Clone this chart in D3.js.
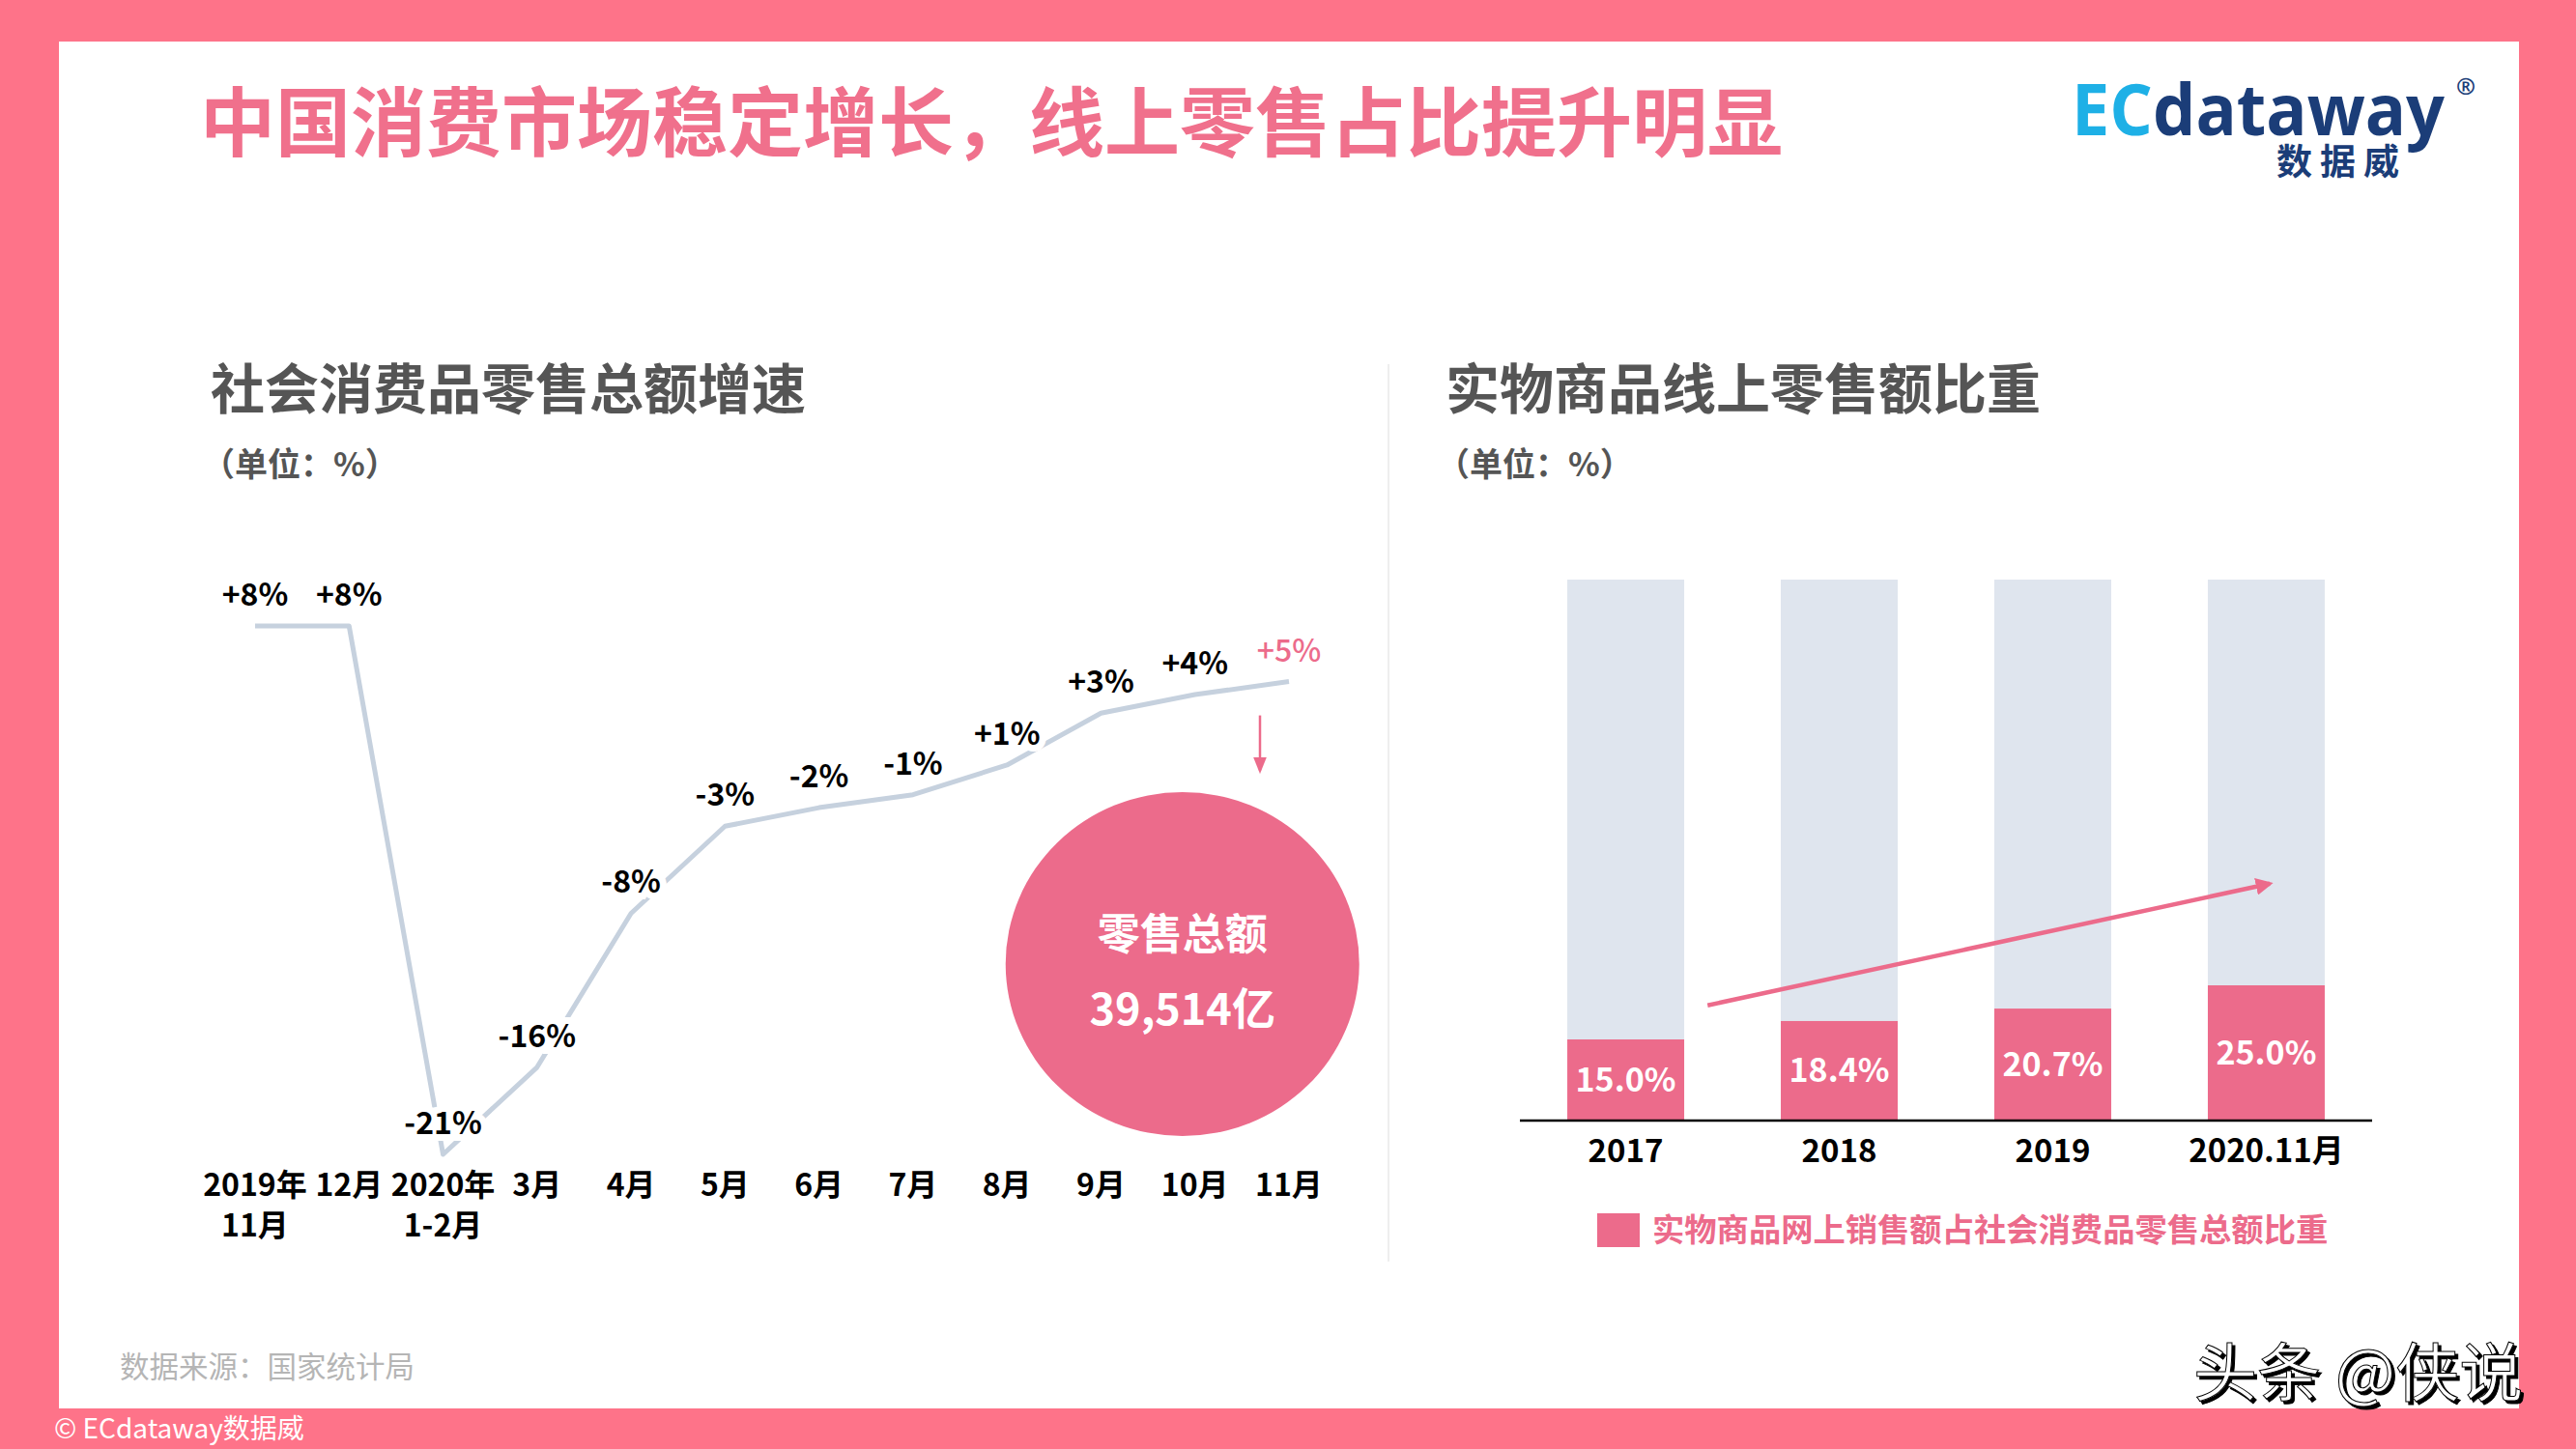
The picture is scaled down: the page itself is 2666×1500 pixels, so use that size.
<!DOCTYPE html>
<html><head><meta charset="utf-8">
<script src="https://cdn.jsdelivr.net/npm/d3@7"></script>
<style>html,body{margin:0;padding:0;background:#fff;}svg{display:block;}</style>
</head><body>
<script>
// ---- data ----
const months = ["2019年11月","12月","2020年1-2月","3月","4月","5月","6月","7月","8月","9月","10月","11月"];
const monthLines = [["2019年","11月"],["12月"],["2020年","1-2月"],["3月"],["4月"],["5月"],["6月"],["7月"],["8月"],["9月"],["10月"],["11月"]];
const growth = [8.0, 8.0, -20.5, -15.8, -7.5, -2.8, -1.8, -1.1, 0.5, 3.3, 4.3, 5.0];
const growthLabels = ["+8%","+8%","-21%","-16%","-8%","-3%","-2%","-1%","+1%","+3%","+4%","+5%"];
const years = ["2017","2018","2019","2020.11月"];
const onlineShare = [15.0, 18.4, 20.7, 25.0];
const shareLabels = ["15.0%","18.4%","20.7%","25.0%"];
const totalLabel = ["零售总额","39,514亿"];

const W = 2666, H = 1500;
const PINK = "#ec6b8b", BORDER = "#fe7389", FONT = "'Noto Sans CJK SC','Noto Sans',sans-serif";

const svg = d3.select("body").append("svg").attr("width", W).attr("height", H);
svg.append("defs").html(`
  <marker id="ah" viewBox="0 0 10 10" refX="8" refY="5" markerWidth="4" markerHeight="4" orient="auto"><path d="M0,0L10,5L0,10z" fill="${PINK}"/></marker>
  <marker id="ah2" viewBox="0 0 10 10" refX="8" refY="5" markerWidth="7" markerHeight="7" orient="auto"><path d="M0,1L10,5L0,9z" fill="${PINK}"/></marker>
  <filter id="sh" x="-10%" y="-10%" width="130%" height="140%"><feDropShadow dx="3" dy="3" stdDeviation="0.6" flood-color="#000" flood-opacity="1"/></filter>`);

// frame
svg.append("rect").attr("width", W).attr("height", H).attr("fill", BORDER);
svg.append("rect").attr("x", 61).attr("y", 43).attr("width", 2546).attr("height", 1415).attr("fill", "#fff");

// title
svg.append("text").attr("x", 207).attr("y", 156).attr("font-family", FONT).attr("font-weight", 700)
  .attr("font-size", 78).attr("fill", "#f0708c").text("中国消费市场稳定增长，线上零售占比提升明显");

// logo
const logo = svg.append("g").attr("font-family", "'Open Sans','DejaVu Sans',sans-serif").attr("font-weight", 700);
logo.append("text").attr("x", 2144).attr("y", 140).attr("font-size", 74).attr("textLength", 386).attr("lengthAdjust","spacingAndGlyphs")
  .html(`<tspan fill="#1eb0e6">EC</tspan><tspan fill="#1b3d78">dataway</tspan>`);
logo.append("text").attr("x", 2552).attr("y", 98).attr("font-size", 24).attr("fill", "#1b3d78").attr("text-anchor","middle").text("®");
svg.append("text").attr("x", 2356).attr("y", 181).attr("font-family", FONT).attr("font-weight", 700)
  .attr("font-size", 37).attr("letter-spacing", 8).attr("fill", "#1b3d78").text("数据威");

// subtitles
const sub = (x, t) => {
  svg.append("text").attr("x", x).attr("y", 423).attr("font-family", FONT).attr("font-weight", 700)
    .attr("font-size", 56).attr("fill", "#555").text(t);
  svg.append("text").attr("x", x - 9).attr("y", 493).attr("font-family", FONT).attr("font-weight", 700)
    .attr("font-size", 34).attr("fill", "#555").text("（单位：%）");
};
sub(218, "社会消费品零售总额增速");
sub(1496, "实物商品线上零售额比重");

// divider
svg.append("line").attr("x1", 1437).attr("x2", 1437).attr("y1", 377).attr("y2", 1306).attr("stroke", "#eee").attr("stroke-width", 2);

// ---- line chart ----
const x = d3.scalePoint().domain(months).range([264, 1334]);
const y = d3.scaleLinear().domain([-20.5, 8]).range([1195, 648]);
const data = months.map((m, i) => ({m, v: growth[i], l: growthLabels[i], lines: monthLines[i]}));

svg.append("path").datum(data)
  .attr("d", d3.line().x(d => x(d.m)).y(d => y(d.v)))
  .attr("fill", "none").attr("stroke", "#c6d1de").attr("stroke-width", 5).attr("stroke-linejoin", "round");

svg.append("g").selectAll("text").data(data).join("text")
  .attr("x", d => x(d.m)).attr("y", d => y(d.v) - 21).attr("text-anchor", "middle")
  .attr("font-family", FONT).attr("font-size", 32)
  .attr("font-weight", (d, i) => i === data.length - 1 ? 500 : 700)
  .attr("fill", (d, i) => i === data.length - 1 ? PINK : "#000")
  .attr("stroke", "#fff").attr("stroke-width", 14).attr("paint-order", "stroke")
  .text(d => d.l);

// x labels
const xl = svg.append("g").attr("font-family", FONT).attr("font-weight", 700).attr("font-size", 32).attr("fill", "#000");
data.forEach(d => {
  d.lines.forEach((t, j) => {
    xl.append("text").attr("x", x(d.m)).attr("y", 1238 + j * 42).attr("text-anchor", "middle").text(t);
  });
});

// down arrow + circle
const lastM = months[months.length - 1];
svg.append("line").attr("x1", x(lastM) - 30).attr("x2", x(lastM) - 30)
  .attr("y1", y(growth[11]) + 35).attr("y2", y(growth[11]) + 92)
  .attr("stroke", PINK).attr("stroke-width", 2.5).attr("marker-end", "url(#ah2)");
const cx = x(months[10]) - 13, cy = 998;
svg.append("ellipse").attr("cx", cx).attr("cy", cy).attr("rx", 183).attr("ry", 178).attr("fill", PINK);
svg.append("text").attr("x", cx).attr("y", cy - 15).attr("text-anchor", "middle").attr("font-family", FONT)
  .attr("font-weight", 700).attr("font-size", 44).attr("fill", "#fff").text(totalLabel[0]);
svg.append("text").attr("x", cx).attr("y", cy + 63).attr("text-anchor", "middle").attr("font-family", FONT)
  .attr("font-weight", 700).attr("font-size", 45).attr("fill", "#fff").text(totalLabel[1]);

// ---- bar chart ----
const xb = d3.scaleBand().domain(years).range([1573, 2455]).paddingInner(0.4525).paddingOuter(0.222);
const yb = d3.scaleLinear().domain([0, 100]).range([1160, 600]);
const bars = years.map((yr, i) => ({yr, v: onlineShare[i], l: shareLabels[i]}));

svg.append("g").selectAll("rect").data(bars).join("rect")
  .attr("x", d => xb(d.yr)).attr("width", xb.bandwidth()).attr("y", yb(100)).attr("height", yb(0) - yb(100)).attr("fill", "#dfe5ee");
svg.append("g").selectAll("rect").data(bars).join("rect")
  .attr("x", d => xb(d.yr)).attr("width", xb.bandwidth()).attr("y", d => yb(d.v)).attr("height", d => yb(0) - yb(d.v)).attr("fill", PINK);
svg.append("g").selectAll("text").data(bars).join("text")
  .attr("x", d => xb(d.yr) + xb.bandwidth() / 2).attr("y", d => (yb(d.v) + yb(0)) / 2 + 12).attr("text-anchor", "middle")
  .attr("font-family", FONT).attr("font-weight", 700).attr("font-size", 34).attr("fill", "#fff").text(d => d.l);

const xAxis = svg.append("g").attr("transform", `translate(0,${yb(0)})`)
  .call(d3.axisBottom(xb).tickSize(0).tickPadding(20).tickSizeOuter(0));
xAxis.select(".domain").attr("stroke", "#000").attr("stroke-width", 2.5).attr("d", "M1573,0H2455");
xAxis.selectAll("text").attr("font-family", FONT).attr("font-weight", 700).attr("font-size", 33).attr("fill", "#000");

// trend arrow
svg.append("line")
  .attr("x1", xb("2017") + xb.bandwidth() * 1.2).attr("y1", yb(21.3))
  .attr("x2", xb("2020.11月") + xb.bandwidth() * 0.53).attr("y2", yb(43.8))
  .attr("stroke", PINK).attr("stroke-width", 4.5).attr("marker-end", "url(#ah)");

// legend
svg.append("rect").attr("x", 1653).attr("y", 1256).attr("width", 44).attr("height", 35).attr("fill", PINK);
svg.append("text").attr("x", 1710).attr("y", 1285).attr("font-family", FONT).attr("font-weight", 700)
  .attr("font-size", 33.3).attr("fill", PINK).text("实物商品网上销售额占社会消费品零售总额比重");

// source & footer
svg.append("text").attr("x", 124).attr("y", 1426).attr("font-family", FONT).attr("font-size", 30.5).attr("fill", "#b5b5b5").text("数据来源：国家统计局");
svg.append("text").attr("x", 56).attr("y", 1489).attr("font-family", FONT).attr("font-size", 28).attr("fill", "#fff").text("© ECdataway数据威");
svg.append("text").attr("x", 2270).attr("y", 1445).attr("font-family", FONT).attr("font-size", 66).attr("fill", "#fff")
  .attr("filter", "url(#sh)").attr("stroke", "#000").attr("stroke-width", 1).text("头条 @侠说");
</script>
</body></html>
